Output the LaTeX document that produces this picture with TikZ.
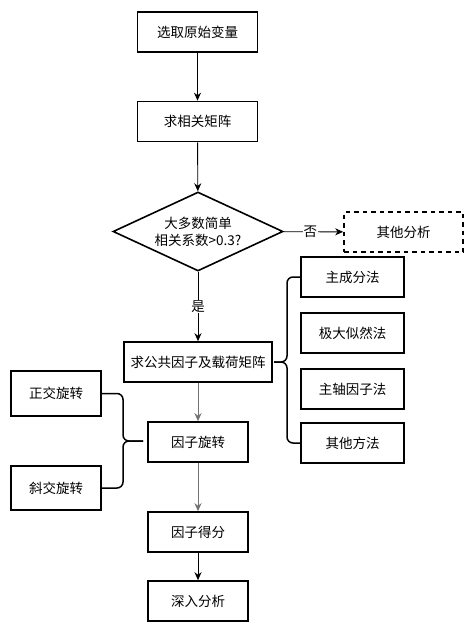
\documentclass[tikz,border=0pt]{standalone}
\usepackage{fontspec}
\setmainfont{Noto Sans CJK SC}
\usetikzlibrary{shapes.geometric,arrows.meta,calc}
\begin{document}
\begin{tikzpicture}[x=1pt,y=-1pt,
  every node/.style={font=\fontsize{13.5}{16}\selectfont},
  box/.style={draw=black,line width=1.6pt,minimum width=#1,minimum height=40pt,inner sep=0pt},
  box/.default=120pt,
  dbox/.style={draw=black,line width=1.6pt,dash pattern=on 4.5pt off 4pt,minimum width=119pt,minimum height=40pt,inner sep=0pt},
  arr/.style={draw=black,line width=0.9pt,-{Stealth[length=8pt,width=7pt,inset=2.5pt]}},
  garr/.style={arr,draw=black!55},
  brace/.style={draw=black,line width=1.5pt,rounded corners=6pt},
  lbl/.style={fill=white,inner sep=1pt}]
\useasboundingbox (0,0) rectangle (476,632);
\node[box] (b1) at (197.5,32) {选取原始变量};
\node[box] (b2) at (197.5,121.5) {求相关矩阵};
\node[draw=black,line width=1.6pt,shape=diamond,aspect=2.15,minimum width=170pt,minimum height=79pt,inner sep=0pt,align=center,font=\fontsize{13.5}{17}\selectfont] (d) at (198,231.5) {大多数简单\\相关系数>0.3?};
\node[dbox] (o) at (403.5,232) {其他分析};
\node[box=148pt] (c) at (198,362) {求公共因子及载荷矩阵};
\node[box=103pt] (m1) at (352.5,277) {主成分法};
\node[box=103pt] (m2) at (352.5,333) {极大似然法};
\node[box=103pt] (m3) at (352.5,389) {主轴因子法};
\node[box=103pt] (m4) at (352.5,443) {其他方法};
\node[box=100pt] (r) at (198,442) {因子旋转};
\node[box=90pt,minimum height=45pt] (l1) at (56,393.5) {正交旋转};
\node[box=90pt,minimum height=44pt] (l2) at (56,488) {斜交旋转};
\node[box=100pt] (s) at (198,532) {因子得分};
\node[box=100pt] (e) at (198,601) {深入分析};
\coordinate (tipR) at (274,362);
\coordinate (tipL) at (143,441);
% arrows
\draw[arr] (b1) -- (b2);
\draw[arr] (b2) -- (d);
\draw[arr] (d) -- node[lbl,pos=0.45] {否} (o);
\draw[arr] (d) -- node[lbl,pos=0.5] {是} (c);
\draw[garr] (c) -- (r);
\draw[garr] (r) -- (s);
\draw[arr] (s) -- (e);
% braces
\draw[brace] (m1.west) -| ($(tipR)+(13,0)$) -- (tipR);
\draw[brace] (m4.west) -| ($(tipR)+(13,0)$) -- (tipR);
\draw[brace] (l1.east) -| ($(tipL)+(-20,0)$) -- (tipL);
\draw[brace] (l2.east) -| ($(tipL)+(-20,0)$) -- (tipL);
\end{tikzpicture}
\end{document}
